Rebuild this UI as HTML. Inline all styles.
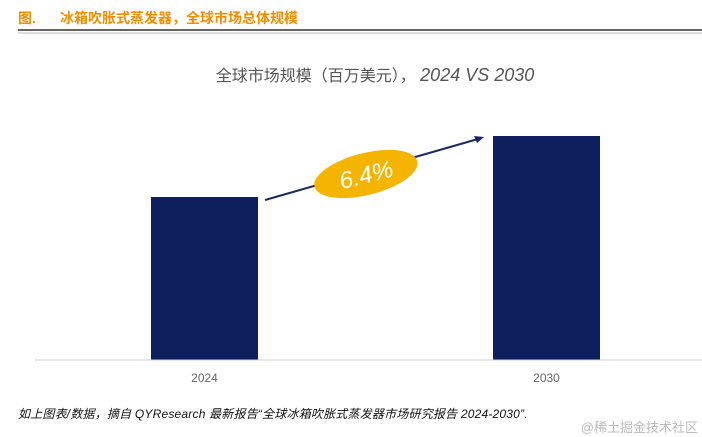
<!DOCTYPE html>
<html><head><meta charset="utf-8"><style>
body{margin:0;width:702px;height:437px;background:#fff;overflow:hidden;font-family:"Liberation Sans","Noto Sans CJK SC",sans-serif}
svg{position:absolute;left:0;top:0}
</style></head><body>
<svg id="c" width="702" height="437">
<text x="18" y="23" font-size="14" font-weight="bold" fill="#f28c00" font-family="Liberation Sans,Noto Sans CJK SC,sans-serif">图.</text>
<text x="60" y="23" font-size="14" font-weight="bold" fill="#f28c00" font-family="Liberation Sans,Noto Sans CJK SC,sans-serif">冰箱吹胀式蒸发器，全球市场总体规模</text>
<line x1="18" y1="30" x2="702" y2="30" stroke="#333" stroke-width="1.5"/>
<line x1="18" y1="33" x2="702" y2="33" stroke="#bbb" stroke-width="1"/>
<text x="375" y="81" font-size="16" fill="#555" text-anchor="middle" font-family="Liberation Sans,Noto Sans CJK SC,sans-serif">全球市场规模（百万美元）， <tspan font-style="italic" font-size="18">2024 VS 2030</tspan></text>
<g id="bars"></g>
<line x1="35" y1="360" x2="702" y2="360" stroke="#d0d0d0" stroke-width="1"/>
<g id="labels"></g>
<line x1="265" y1="200" x2="478" y2="139" stroke="#1a2a5e" stroke-width="2"/>
<polygon points="484,137 474,136 477,143" fill="#1a2a5e"/>
<ellipse cx="366" cy="174" rx="53" ry="21" transform="rotate(-14 366 174)" fill="#f5b400"/>
<text x="366" y="183" font-size="24" fill="#fff" text-anchor="middle" font-style="italic" transform="rotate(-14 366 174)">6.4%</text>
<text x="18" y="418" font-size="12" font-style="italic" fill="#111" letter-spacing="0.2" font-family="Liberation Sans,Noto Sans CJK SC,sans-serif">如上图表/数据，摘自 QYResearch 最新报告“全球冰箱吹胀式蒸发器市场研究报告 2024-2030”.</text>
<text x="698" y="432" font-size="13" fill="#bbb" text-anchor="end" font-family="Liberation Sans,Noto Sans CJK SC,sans-serif">@稀土掘金技术社区</text>
</svg>
<script>
const categories=["2024","2030"];
const values=[1630,2240];
const yMax=2240;
const plotBottom=360, plotH=224;
const centers=[204.5,546.5], bw=107;
const y=v=>plotBottom-v/yMax*plotH;
const ns="http://www.w3.org/2000/svg";
const bars=document.getElementById('bars'), labels=document.getElementById('labels');
categories.forEach((c,i)=>{
 const r=document.createElementNS(ns,'rect');
 r.setAttribute('x',centers[i]-bw/2);r.setAttribute('y',y(values[i]));
 r.setAttribute('width',bw);r.setAttribute('height',plotBottom-y(values[i]));
 r.setAttribute('fill','#0d1f5c');
 
 
 bars.appendChild(r);
 const t=document.createElementNS(ns,'text');
 t.setAttribute('x',centers[i]);t.setAttribute('y',382);
 t.setAttribute('text-anchor','middle');t.setAttribute('font-size','12');t.setAttribute('fill','#666');
 t.textContent=c;
 
 
 labels.appendChild(t);
});
</script>
</body></html>
